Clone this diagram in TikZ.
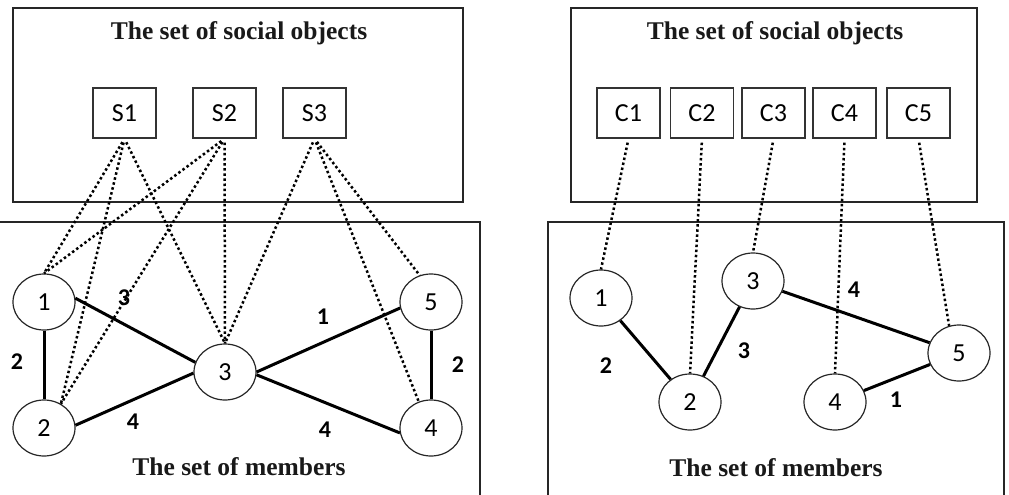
\documentclass[tikz,border=0pt]{standalone}
\usepackage{fontspec}
\setmainfont{Liberation Serif}
\newfontfamily\calfont{Carlito}
\usetikzlibrary{shapes.geometric}
\begin{document}
\begin{tikzpicture}[x=1pt,y=-1pt,
 panel/.style={draw=black!85,line width=1.6pt},
 title/.style={font=\fontsize{25.5}{30}\selectfont\bfseries, inner sep=0, text=black!90},
 obj/.style={draw=black!80,line width=1.4pt,minimum width=63pt,minimum height=50pt,inner sep=0,font=\calfont\fontsize{26}{30}\selectfont},
 mem/.style={ellipse,draw=black!85,fill=white,line width=1.2pt,minimum width=62pt,minimum height=56pt,inner sep=0,font=\calfont\fontsize{26}{30}\selectfont},
 link/.style={line width=3pt},
 tie/.style={line width=2.5pt,dash pattern=on 2.5pt off 2.6pt,shorten <=4pt},
 wt/.style={font=\calfont\bfseries\fontsize{24}{28}\selectfont,inner sep=0}]
\useasboundingbox (0,0) rectangle (1009,495);
\fill[white] (0,0) rectangle (1009,495);

% panels
\draw[panel] (13,8) rectangle (463,202);
\draw[panel] (-3,222) rectangle (480,500);
\draw[panel] (571,8) rectangle (977,202);
\draw[panel] (548,222) rectangle (1004,500);

\node[title] (tl) at (239,33) {The set of social objects};
\node[title] (bl) at (239,467) {The set of members};
\node[title] (tr) at (775,33) {The set of social objects};
\node[title] (br) at (776,468) {The set of members};

% social objects
\node[obj] (s1) at (124.5,113) {S1};
\node[obj] (s2) at (224.5,113) {S2};
\node[obj] (s3) at (314.5,113) {S3};
\node[obj] (c1) at (628.5,113) {C1};
\node[obj] (c2) at (702,113) {C2};
\node[obj] (c3) at (773.5,113) {C3};
\node[obj] (c4) at (844.5,113) {C4};
\node[obj] (c5) at (918.5,113) {C5};

% members
\node[mem] (l1) at (44,302) {1};
\node[mem] (l2) at (44,428) {2};
\node[mem] (l3) at (225,372) {3};
\node[mem] (l4) at (431,428) {4};
\node[mem] (l5) at (431,302) {5};

\node[mem] (r1) at (601,298) {1};
\node[mem] (r2) at (690,402) {2};
\node[mem] (r3) at (753,281) {3};
\node[mem] (r4) at (835,402) {4};
\node[mem] (r5) at (959,353) {5};

% dotted ties left
\draw[tie] (s1.south) -- (l1.north);
\draw[tie] (s2.south) -- (l1.north);
\draw[tie] (s1.south) -- (l2.55);
\draw[tie] (s2.south) -- (l2.55);
\draw[tie] (s1.south) -- (l3.north);
\draw[tie] (s2.south) -- (l3.north);
\draw[tie] (s3.south) -- (l3.north);
\draw[tie] (s3.south) -- (l4.115);
\draw[tie] (s3.south) -- (l5.113);

% dotted ties right
\draw[tie] (c1.south) -- (r1.north);
\draw[tie] (c2.south) -- (r2.north);
\draw[tie] (c3.south) -- (r3.north);
\draw[tie] (c4.south) -- (r4.north);
\draw[tie] (c5.south) -- (r5.110);

% solid links left
\draw[link] (l1.7) -- (l3.162);
\draw[link] (l2.5) -- (l3.182);
\draw[link] (l3.0) -- (l5.191);
\draw[link] (l3.355) -- (l4.189);
\draw[link] (l1.south) -- (l2.north);
\draw[link] (l5.south) -- (l4.north);

% solid links right
\draw[link] (r1) -- (r2);
\draw[link] (r2) -- (r3);
\draw[link] (r3) -- (r5);
\draw[link] (r4) -- (r5);

% weights left
\node[wt] (w13) at (124,298) {3};
\node[wt] (w12) at (17,362) {2};
\node[wt] (w23) at (133,422) {4};
\node[wt] (w35) at (323,317) {1};
\node[wt] (w54) at (458,365) {2};
\node[wt] (w34) at (325,430) {4};

% weights right
\node[wt] (v12) at (606,366) {2};
\node[wt] (v23) at (744,351) {3};
\node[wt] (v35) at (854,290) {4};
\node[wt] (v45) at (896,400) {1};
\end{tikzpicture}
\end{document}
